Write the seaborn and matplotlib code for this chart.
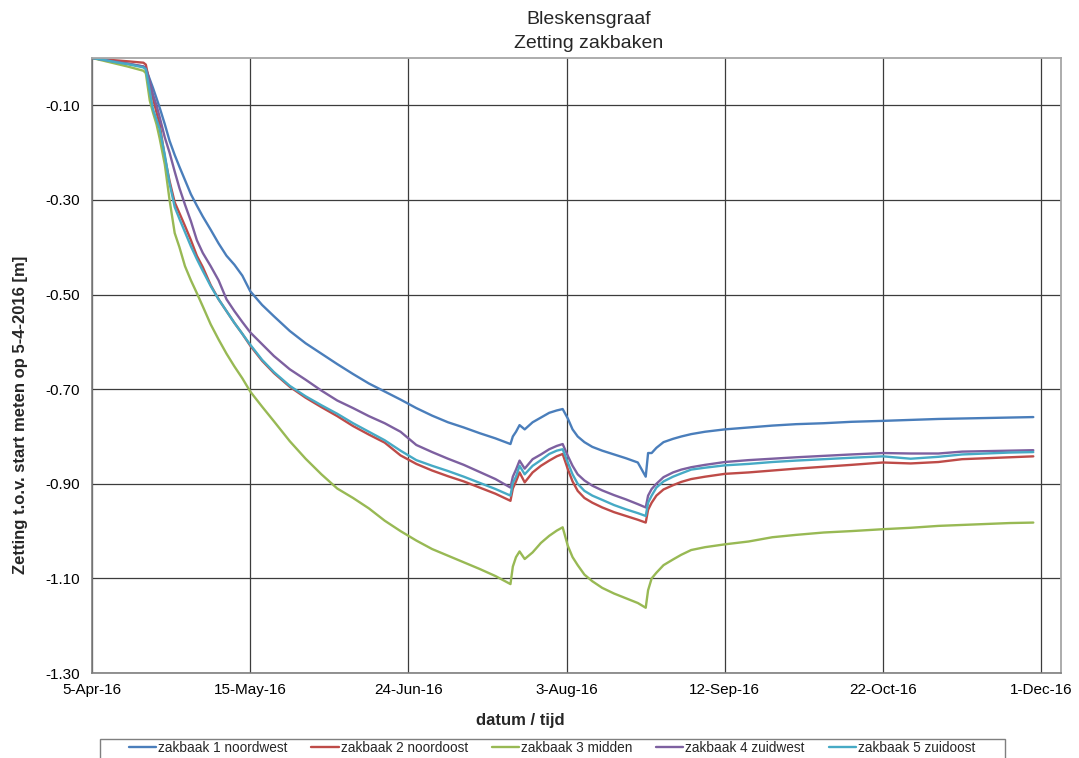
import numpy as np
import pandas as pd
import matplotlib
matplotlib.use("Agg")
import matplotlib.pyplot as plt
from matplotlib.patches import Rectangle
import seaborn as sns

# ---------------- data ----------------
start_date = "2016-04-05"
days = [0, 3, 6, 9, 13, 13.6, 14.6, 15.4, 16.3, 17.1, 18.4, 19.6, 20.9, 22.1, 23.5,
        25, 26.5, 28, 30, 32, 34, 36, 38, 40, 43, 46, 50, 54, 58, 62, 66, 70, 74, 78,
        82, 86, 90, 94, 98, 102, 105.8, 106.4, 107.2, 108.1, 109.4, 111.4, 113.5,
        115.6, 117.5, 119, 120.3, 121.5, 122.8, 124.5, 126.5, 129, 132, 135, 138,
        140, 140.6, 141.5, 142.7, 144.5, 146.9, 149, 151.5, 155, 160, 166, 172, 178,
        185, 192, 200, 207, 214, 220, 226, 232, 238]

zb1_noordwest = [0.000, -0.004, -0.008, -0.012, -0.018, -0.022, -0.045, -0.063, -0.085,
                 -0.105, -0.140, -0.175, -0.205, -0.230, -0.258, -0.288, -0.312, -0.335,
                 -0.363, -0.392, -0.418, -0.437, -0.460, -0.493, -0.522, -0.546, -0.577,
                 -0.603, -0.625, -0.647, -0.668, -0.688, -0.705, -0.722, -0.740, -0.756,
                 -0.770, -0.781, -0.793, -0.804, -0.816, -0.800, -0.790, -0.776, -0.785,
                 -0.770, -0.760, -0.750, -0.745, -0.742, -0.762, -0.785, -0.800, -0.812,
                 -0.822, -0.830, -0.838, -0.846, -0.855, -0.885, -0.835, -0.835, -0.824,
                 -0.812, -0.805, -0.800, -0.795, -0.790, -0.785, -0.781, -0.777, -0.774,
                 -0.772, -0.769, -0.767, -0.765, -0.763, -0.762, -0.761, -0.760, -0.759]

zb2_noordoost = [0.000, -0.003, -0.005, -0.007, -0.010, -0.014, -0.055, -0.085, -0.115,
                 -0.140, -0.210, -0.260, -0.305, -0.328, -0.355, -0.385, -0.418, -0.442,
                 -0.480, -0.510, -0.535, -0.560, -0.583, -0.608, -0.640, -0.666, -0.695,
                 -0.718, -0.738, -0.757, -0.778, -0.796, -0.813, -0.840, -0.858, -0.872,
                 -0.884, -0.895, -0.908, -0.921, -0.936, -0.910, -0.895, -0.876, -0.897,
                 -0.876, -0.862, -0.851, -0.842, -0.837, -0.869, -0.895, -0.915, -0.930,
                 -0.940, -0.950, -0.960, -0.968, -0.976, -0.982, -0.955, -0.940, -0.925,
                 -0.912, -0.903, -0.896, -0.890, -0.885, -0.879, -0.876, -0.872, -0.868,
                 -0.864, -0.860, -0.855, -0.857, -0.854, -0.848, -0.846, -0.844, -0.842]

zb3_midden = [0.000, -0.006, -0.012, -0.018, -0.027, -0.032, -0.090, -0.115, -0.140,
              -0.170, -0.225, -0.300, -0.370, -0.400, -0.440, -0.470, -0.497, -0.525,
              -0.563, -0.595, -0.625, -0.652, -0.677, -0.705, -0.737, -0.768, -0.810,
              -0.847, -0.880, -0.910, -0.930, -0.952, -0.978, -1.000, -1.020, -1.038,
              -1.052, -1.066, -1.080, -1.095, -1.112, -1.075, -1.055, -1.043, -1.059,
              -1.045, -1.025, -1.010, -0.999, -0.992, -1.031, -1.055, -1.072, -1.092,
              -1.106, -1.120, -1.132, -1.142, -1.152, -1.162, -1.125, -1.100, -1.088,
              -1.072, -1.060, -1.050, -1.040, -1.034, -1.028, -1.022, -1.013, -1.008,
              -1.003, -1.000, -0.996, -0.993, -0.989, -0.987, -0.985, -0.983, -0.982]

zb4_zuidwest = [0.000, -0.004, -0.008, -0.012, -0.018, -0.022, -0.050, -0.077, -0.100,
                -0.125, -0.168, -0.200, -0.240, -0.275, -0.310, -0.345, -0.385, -0.412,
                -0.440, -0.470, -0.510, -0.535, -0.558, -0.580, -0.605, -0.630, -0.658,
                -0.680, -0.703, -0.724, -0.740, -0.757, -0.772, -0.790, -0.818, -0.833,
                -0.847, -0.860, -0.875, -0.890, -0.908, -0.885, -0.870, -0.851, -0.868,
                -0.848, -0.838, -0.827, -0.820, -0.816, -0.841, -0.862, -0.880, -0.893,
                -0.904, -0.914, -0.924, -0.933, -0.943, -0.950, -0.925, -0.911, -0.900,
                -0.886, -0.876, -0.870, -0.865, -0.860, -0.854, -0.850, -0.847, -0.844,
                -0.841, -0.838, -0.835, -0.836, -0.836, -0.832, -0.831, -0.830, -0.829]

zb5_zuidoost = [0.000, -0.004, -0.009, -0.013, -0.020, -0.024, -0.070, -0.108, -0.130,
                -0.150, -0.205, -0.265, -0.315, -0.340, -0.368, -0.398, -0.425, -0.450,
                -0.482, -0.510, -0.535, -0.560, -0.583, -0.606, -0.638, -0.664, -0.693,
                -0.715, -0.734, -0.752, -0.772, -0.790, -0.808, -0.830, -0.850, -0.862,
                -0.873, -0.885, -0.898, -0.911, -0.925, -0.898, -0.885, -0.862, -0.880,
                -0.862, -0.850, -0.837, -0.830, -0.827, -0.855, -0.880, -0.900, -0.915,
                -0.925, -0.934, -0.945, -0.954, -0.962, -0.968, -0.940, -0.925, -0.908,
                -0.895, -0.885, -0.878, -0.870, -0.866, -0.861, -0.858, -0.854, -0.851,
                -0.848, -0.845, -0.842, -0.847, -0.843, -0.838, -0.836, -0.834, -0.833]

series_names = ["zakbaak 1 noordwest", "zakbaak 2 noordoost", "zakbaak 3 midden",
                "zakbaak 4 zuidwest", "zakbaak 5 zuidoost"]
series_colors = ["#4A7EBB", "#BE4B48", "#98B954", "#7D60A0", "#46AAC5"]

x_tick_dates = ["2016-04-05", "2016-05-15", "2016-06-24", "2016-08-03",
                "2016-09-12", "2016-10-22", "2016-12-01"]
x_tick_labels = ["5-Apr-16", "15-May-16", "24-Jun-16", "3-Aug-16",
                 "12-Sep-16", "22-Oct-16", "1-Dec-16"]
x_end_date = "2016-12-06"
y_ticks = [-1.30, -1.10, -0.90, -0.70, -0.50, -0.30, -0.10]
y_tick_labels = ["-1.30", "-1.10", "-0.90", "-0.70", "-0.50", "-0.30", "-0.10"]

# ---------------- frame ----------------
all_values = [zb1_noordwest, zb2_noordoost, zb3_midden, zb4_zuidwest, zb5_zuidoost]
t0 = pd.Timestamp(start_date)
dates = [t0 + pd.Timedelta(days=d) for d in days]
frames = []
for name, vals in zip(series_names, all_values):
    frames.append(pd.DataFrame({"datum": dates, "zetting": vals, "reeks": name}))
df = pd.concat(frames, ignore_index=True)

# ---------------- plot ----------------
sns.set_theme(style="white")
plt.rcParams["font.family"] = ["Liberation Sans", "DejaVu Sans"]

fig = plt.figure(figsize=(10.79, 7.58), dpi=100)
ax = fig.add_axes([0.0853, 0.1121, 0.898, 0.8114])

sns.lineplot(data=df, x="datum", y="zetting", hue="reeks",
             palette=dict(zip(series_names, series_colors)),
             hue_order=series_names, estimator=None, sort=False,
             linewidth=1.7, ax=ax, legend=True)

ax.set_xlim(t0, pd.Timestamp(x_end_date))
ax.set_ylim(-1.30, 0.0)
ax.set_xticks([pd.Timestamp(d) for d in x_tick_dates])
ax.set_xticklabels(x_tick_labels)
ax.set_yticks(y_ticks)
ax.set_yticklabels(y_tick_labels)

ax.grid(True, color="#3c3c3c", linewidth=0.9)
ax.set_axisbelow(True)
for s in ["top", "right"]:
    ax.spines[s].set_color("#a6a6a6")
    ax.spines[s].set_linewidth(1.3)
for s in ["left", "bottom"]:
    ax.spines[s].set_color("#7f7f7f")
    ax.spines[s].set_linewidth(1.2)
ax.tick_params(axis="both", direction="out", length=5, width=0.9, color="#5a5a5a",
               labelsize=11, labelcolor="black", pad=2)
ax.tick_params(axis="y", pad=4)

ax.set_xlabel("")
ax.set_ylabel("")
fig.text(0.019, 1 - 415 / 758, "Zetting t.o.v. start meten op 5-4-2016 [m]", rotation=90,
         ha="center", va="center", fontsize=12, fontweight="bold")
fig.text(520 / 1079, 1 - 720 / 758, "datum / tijd", ha="center", va="center",
         fontsize=12, fontweight="bold")
fig.text(589 / 1079, 1 - 19 / 758, "Bleskensgraaf", ha="center", va="center", fontsize=14)
fig.text(589 / 1079, 1 - 43 / 758, "Zetting zakbaken", ha="center", va="center", fontsize=14)

# legend box (runs off the bottom edge like the reference)
fig.patches.append(Rectangle((100 / 1079, -0.05), 905 / 1079, 0.05 + (1 - 739 / 758),
                             transform=fig.transFigure, fill=False,
                             edgecolor="#7f7f7f", linewidth=1.0))
handles, labels = ax.get_legend_handles_labels()
ax.get_legend().remove()
leg = fig.legend(handles, labels, loc="upper center",
                 bbox_to_anchor=(552 / 1079, 1 - 741 / 758),
                 ncol=5, frameon=False, fontsize=9.8, borderaxespad=0, borderpad=0,
                 handlelength=2.0, handletextpad=0.15, columnspacing=1.75)

fig.savefig("out.png", dpi=100)
